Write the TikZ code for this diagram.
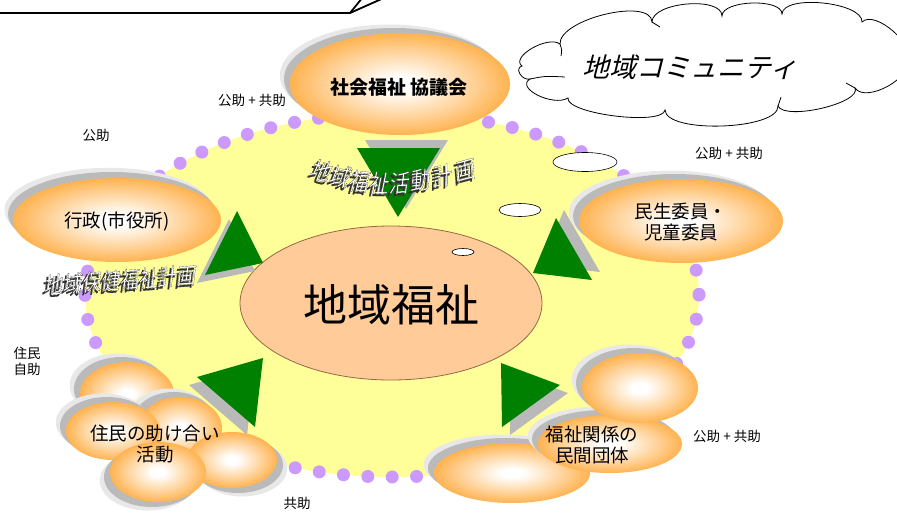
\documentclass[tikz,border=0pt]{standalone}
\usepackage{fontspec}
\usepackage{graphicx}
\setmainfont{Noto Sans CJK JP}
\newfontfamily\jpit[FakeSlant=0.25]{Noto Sans CJK JP}
\newfontfamily\jpwa[FakeSlant=0.22]{Noto Sans CJK JP}
\usetikzlibrary{shapes.geometric}
\definecolor{yel}{RGB}{255,255,153}
\definecolor{dotc}{RGB}{204,153,255}
\definecolor{peach}{RGB}{255,204,153}
\definecolor{peachline}{RGB}{150,105,70}
\definecolor{grn}{RGB}{0,128,0}
\definecolor{shd}{RGB}{185,185,185}
\definecolor{shdA}{RGB}{232,232,232}
\definecolor{shdB}{RGB}{186,186,186}
\definecolor{oA}{RGB}{255,208,148}
\definecolor{oB}{RGB}{255,168,55}
\definecolor{oC}{RGB}{255,150,15}
\definecolor{wash}{RGB}{50,50,50}
\pgfdeclareradialshading{orangeglow}{\pgfpoint{0bp}{0bp}}{color(0bp)=(white); color(3.5bp)=(white); color(17bp)=(oA); color(28bp)=(oB); color(35bp)=(oC); color(50bp)=(oC)}
\tikzset{
  orbstyle/.style={ellipse, inner sep=0pt, outer sep=0pt, shade, shading=orangeglow, draw=none},
  lbl/.style={font=\fontsize{13.5}{16}\selectfont, inner sep=0pt},
  nodetext/.style={font=\fontsize{18.5}{21}\selectfont, align=center, inner sep=0pt},
  tri/.style={fill=grn},
  trishadow/.style={fill=shd},
  wastyle/.style={inner sep=0pt},
}
\newcommand\orb[7]{%
  \fill[shdA] ({#2+1.7*(#6)},{#3+1.7*(#7)}) ellipse [x radius=#4, y radius=#5];
  \fill[shdB] ({#2+(#6)},{#3+(#7)}) ellipse [x radius=#4, y radius=#5];
  \node[orbstyle, minimum width={2*#4}, minimum height={2*#5}] (#1) at (#2,#3) {};
}
\newcommand\outl[3]{\scalebox{1}[1.2]{\special{pdf:literal direct 2 Tr #1 G #2 w}#3\special{pdf:literal direct 0 Tr}}}
\newcommand\wa[6]{% name, x, y, angle, text, size
  \node[wastyle, font={\jpwa\fontsize{#6}{#6}\selectfont}, text=wash, rotate=#4] (#1s) at ([shift={(-2.4pt,-2.4pt)}]#2,#3) {\outl{0.2}{0.12}{#5}};
  \node[wastyle, font={\jpwa\fontsize{#6}{#6}\selectfont}, text=white, rotate=#4] (#1) at (#2,#3) {\outl{0}{0.1}{#5}};
}
\begin{document}
\begin{tikzpicture}[x=1pt,y=-1pt]
\useasboundingbox (0,0) rectangle (897,512);
\clip (0,0) rectangle (897,512);
\fill[white] (0,0) rectangle (897,512);
% community area
\fill[yel] (392,295) ellipse [x radius=307, y radius=182];
\draw[dotc, line width=13pt, line cap=round, dash pattern=on 0pt off 24.39pt] (392,295) ellipse [x radius=307, y radius=182];
% centre
\node[ellipse, fill=peach, draw=peachline, line width=0.8pt, minimum width=302, minimum height=154, inner sep=0pt] (center) at (391,303) {};
\node[font=\fontsize{44}{44}\selectfont, inner sep=0pt] (centertext) at (391,305) {地域福祉};
% small white ellipses
\draw[fill=white, line width=0.6pt] (585,162) ellipse [x radius=32, y radius=9.5];
\draw[fill=white, line width=0.6pt] (520,210) ellipse [x radius=21, y radius=6.5];
\draw[fill=white, line width=0.6pt] (463,252) ellipse [x radius=11, y radius=3.5];
% triangles
\fill[trishadow] (365,140) -- (448,140) -- (406,209) -- cycle;
\fill[tri] (357,148) -- (440,148) -- (398,217) -- cycle;
\fill[trishadow] (229,219) -- (197,283) -- (255,271) -- cycle;
\fill[tri] (237,211) -- (205,275) -- (263,263) -- cycle;
\fill[trishadow] (564,210) -- (541,265) -- (600,272) -- cycle;
\fill[tri] (556,218) -- (533,273) -- (592,280) -- cycle;
\fill[trishadow] (189,385) -- (255,366) -- (247,435) -- cycle;
\fill[tri] (197,377) -- (263,358) -- (255,427) -- cycle;
\fill[trishadow] (509,371) -- (568,393) -- (510,435) -- cycle;
\fill[tri] (501,363) -- (560,385) -- (502,427) -- cycle;
% actors
\orb{shakyo}{400}{84}{110}{51}{-6}{-5}
\orb{gyosei}{117}{220}{104}{42}{-5}{-6}
\orb{minsei}{681}{221}{102}{42}{-6}{-5}
\orb{ja}{127}{394}{47}{32}{-6}{-5}
\orb{jc}{180}{428}{42}{31}{-6}{-5}
\orb{jb}{113}{431}{47}{29}{-6}{-5}
\orb{je}{232}{460}{45}{28}{6}{5}
\orb{jd}{158}{472}{48}{30}{-6}{5}
\orb{fc}{512}{473}{78}{30}{-6}{-5}
\orb{fb}{610}{444}{72}{29}{-6}{-5}
\orb{fa}{640}{388}{58}{35}{-6}{-5}
\node[font=\bfseries\fontsize{19}{19}\selectfont, inner sep=0pt] (shakyotext) at (399,87) {社会福祉\hspace{4pt}協議会};
\node[nodetext] (gyoseitext) at (117,221) {行政(市役所)};
\node[nodetext] (minseitext) at (681,222) {民生委員・\\児童委員};
\node[nodetext] (jumintext) at (155,444) {住民の助け合い\\活動};
\node[nodetext] (fukushitext) at (592,445) {福祉関係の\\民間団体};
% word art
\wa{k1}{320}{170}{-14}{地}{20}
\wa{k2}{339}{176}{-10}{域}{20}
\wa{k3}{358}{181}{-5}{福}{20}
\wa{k4}{378}{183}{-1}{祉}{20}
\wa{k5}{398}{183}{3}{活}{20}
\wa{k6}{419}{180}{7}{動}{20}
\wa{k7}{441}{176}{11}{計}{20}
\wa{k8}{464}{171}{15}{画}{20}
\wa{hoken}{119}{280}{4}{地域保健福祉計画}{19}
% labels
\node[lbl] (l1) at (252,100) {公助 + 共助};
\node[lbl] (l2) at (96,135) {公助};
\node[lbl] (l3) at (729,153) {公助 + 共助};
\node[lbl, align=left] (l4) at (27,361) {住民\\自助};
\node[lbl] (l5) at (297,503) {共助};
\node[lbl] (l6) at (727,436) {公助 + 共助};
% cloud
\draw[line width=0.8pt, fill=white] (522,66) .. controls (510,57) and (548,35) .. (560,44)
 .. controls (559,19) and (651,-3) .. (652,22)
 .. controls (652,2) and (722,-4) .. (722,16)
 .. controls (722,0) and (782,-2) .. (782,14)
 .. controls (783,-6) and (863,2) .. (862,22)
 .. controls (875,9) and (918,47) .. (905,60)
 .. controls (916,76) and (866,104) .. (855,88)
 .. controls (862,103) and (785,121) .. (778,106)
 .. controls (779,130) and (666,134) .. (665,110)
 .. controls (663,126) and (566,114) .. (568,98)
 .. controls (553,107) and (515,88) .. (530,79)
 .. controls (522,81) and (514,68) .. (522,66) -- cycle;
\draw[line width=0.8pt] (530,79) .. controls (545,76) .. (565,77);
\draw[line width=0.8pt] (560,44) .. controls (562,50) .. (561,56);
\draw[line width=0.8pt] (652,22) .. controls (656,24) .. (660,27);
\draw[line width=0.8pt] (855,88) .. controls (851,85) .. (846,83);
\draw[line width=0.8pt] (778,106) .. controls (779,101) .. (781,97);
\node[font={\jpit\fontsize{27}{27}\selectfont}, inner sep=0pt] (comm) at (690,67) {地域コミュニティ};
% callout
\draw[line width=1.8pt, line join=miter] (-5,13) -- (350,13) -- (386,-3);
\draw[line width=1.8pt] (350,13) -- (363,-3);
\end{tikzpicture}
\end{document}
